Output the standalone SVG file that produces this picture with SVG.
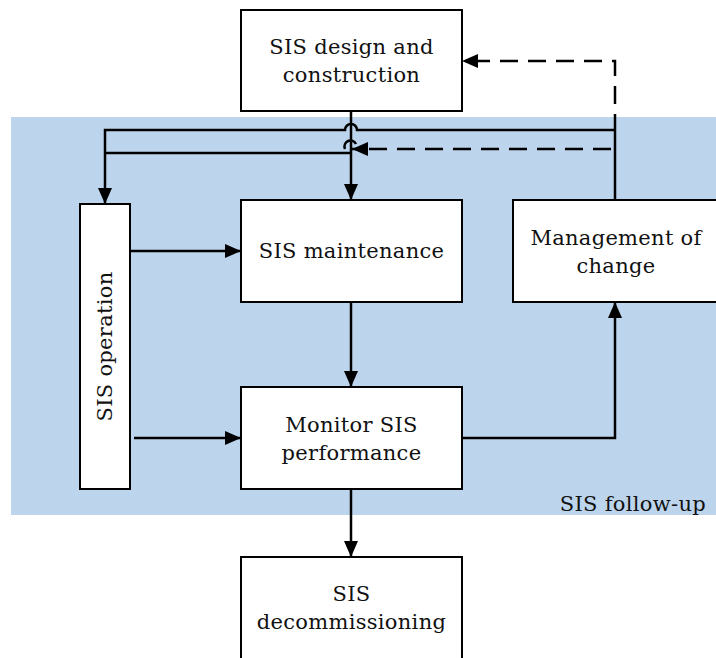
<svg xmlns="http://www.w3.org/2000/svg" width="716" height="658" viewBox="0 0 716 658">
  <defs>
    <marker id="arrow" viewBox="0 0 16 14" refX="16" refY="7" markerWidth="16" markerHeight="14" markerUnits="userSpaceOnUse" orient="auto">
      <path d="M0,0 L16,7 L0,14 Z" fill="#000"/>
    </marker>
  </defs>
  <style>
    .box { fill: #fff; stroke: #000; stroke-width: 2; }
    .lbl { font-family: "DejaVu Serif", "Liberation Serif", serif; font-size: 21px; letter-spacing: 0.3px; fill: #111; text-anchor: middle; }
    .wire { fill: none; stroke: #000; stroke-width: 2.5; }
    .dash { fill: none; stroke: #000; stroke-width: 2.5; stroke-dasharray: 18 10; }
  </style>

  <!-- follow-up region -->
  <rect x="11" y="117" width="705" height="398" fill="#BDD5EC"/>
  <text class="lbl" x="706" y="511" style="text-anchor:end">SIS follow-up</text>

  <g id="connectors">
    <!-- design -> maintenance, with branch to operation -->
    <path class="wire" d="M351,111 V200" marker-end="url(#arrow)"/>
    <path class="wire" d="M351,153 H105"/>
    <!-- management of change -> operation, hopping over the vertical -->
    <path class="wire" d="M615,200 V126 M615,130 H357 A6,6 0 0 0 345,130 H105 V204" marker-end="url(#arrow)"/>
    <!-- management of change -> maintenance (dashed) -->
    <path class="dash" d="M611,149 H352" marker-end="url(#arrow)"/>
    <path class="wire" d="M356,144 A6,6 0 0 0 345,149"/>
    <!-- management of change -> design (dashed) -->
    <path class="dash" d="M615,126 V61 H462" marker-end="url(#arrow)" stroke-dashoffset="6"/>
    <!-- operation -> maintenance / monitor -->
    <path class="wire" d="M131,251 H241" marker-end="url(#arrow)"/>
    <path class="wire" d="M134,438 H241" marker-end="url(#arrow)"/>
    <!-- maintenance -> monitor -->
    <path class="wire" d="M351,302 V387" marker-end="url(#arrow)"/>
    <!-- monitor -> management of change -->
    <path class="wire" d="M462,438 H615 V302" marker-end="url(#arrow)"/>
    <!-- monitor -> decommissioning -->
    <path class="wire" d="M351,489 V557" marker-end="url(#arrow)"/>
  </g>

  <g id="design">
    <rect class="box" x="241" y="10" width="221" height="101"/>
    <text class="lbl" x="351.5" y="54">SIS design and</text>
    <text class="lbl" x="351.5" y="82">construction</text>
  </g>
  <g id="maintenance">
    <rect class="box" x="241" y="200" width="221" height="102"/>
    <text class="lbl" x="351.5" y="258">SIS maintenance</text>
  </g>
  <g id="monitor">
    <rect class="box" x="241" y="387" width="221" height="102"/>
    <text class="lbl" x="351.5" y="432">Monitor SIS</text>
    <text class="lbl" x="351.5" y="460">performance</text>
  </g>
  <g id="decommissioning">
    <rect class="box" x="241" y="557" width="221" height="110"/>
    <text class="lbl" x="351.5" y="601">SIS</text>
    <text class="lbl" x="351.5" y="629">decommissioning</text>
  </g>
  <g id="operation">
    <rect class="box" x="80" y="204" width="50" height="285"/>
    <text class="lbl" transform="translate(112,346.5) rotate(-90)">SIS operation</text>
  </g>
  <g id="moc">
    <rect class="box" x="513" y="200" width="215" height="102"/>
    <text class="lbl" x="616" y="245">Management of</text>
    <text class="lbl" x="616" y="273">change</text>
  </g>
</svg>
